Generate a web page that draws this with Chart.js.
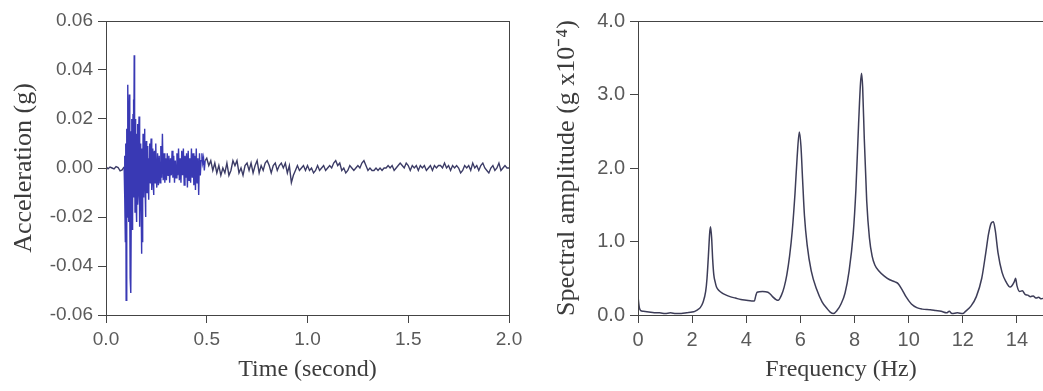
<!DOCTYPE html>
<html>
<head>
<meta charset="utf-8">
<script src="https://cdn.jsdelivr.net/npm/chart.js@4/dist/chart.umd.min.js"></script>
<style>
  html, body { margin: 0; padding: 0; background: #fff; overflow: hidden; width: 1043px; height: 391px; }
  canvas { position: absolute; top: 0; }
  #c1 { left: 0; }
  #c2 { left: 520px; }
</style>
</head>
<body>
<canvas id="c1" width="530" height="391"></canvas>
<canvas id="c2" width="530" height="391"></canvas>
<script>
// ---------- Data: acceleration time history ----------
const timePre = [0.00, 0.01, 0.02, 0.03, 0.04, 0.05, 0.06, 0.07, 0.08, 0.09];
const accelPre = [0.0005, -0.0003, 0.0004, 0.0000, -0.0004, 0.0006, 0.0002, -0.0012, -0.0008, 0.0004];

const timeBurstA = [
  0.092, 0.094, 0.096, 0.098, 0.100, 0.102, 0.104, 0.106, 0.108, 0.110,
  0.112, 0.114, 0.116, 0.118, 0.120, 0.122, 0.124, 0.126, 0.128, 0.130,
  0.132, 0.134, 0.136, 0.138, 0.140, 0.142, 0.144, 0.146, 0.148, 0.150,
  0.152, 0.154, 0.156, 0.158, 0.160, 0.162, 0.164, 0.166, 0.168, 0.170,
  0.172, 0.174, 0.176, 0.178, 0.180, 0.182, 0.184, 0.186, 0.188, 0.190,
  0.192, 0.194, 0.196, 0.198, 0.200, 0.202, 0.204, 0.206, 0.208, 0.210,
  0.212, 0.214, 0.216, 0.218, 0.220, 0.222, 0.224, 0.226, 0.228, 0.230,
  0.232, 0.234, 0.236, 0.238, 0.240, 0.242, 0.244, 0.246, 0.248, 0.250
];
const accelBurstA = [
  0.005, -0.012, -0.030, 0.010, -0.054, -0.015, 0.016, -0.020, 0.034, 0.012,
  -0.022, 0.008, 0.030, -0.018, -0.045, 0.015, -0.051, -0.010, 0.020, -0.025,
  -0.015, 0.022, 0.028, -0.012, 0.046, 0.010, -0.018, 0.020, 0.012, -0.016,
  -0.022, 0.014, 0.018, -0.015, -0.010, 0.012, 0.021, -0.008, -0.024, 0.006,
  0.010, -0.012, -0.035, 0.008, -0.030, -0.006, 0.014, -0.009, -0.012, 0.010,
  0.016, -0.008, -0.020, 0.006, 0.011, -0.007, -0.010, 0.005, 0.009, -0.006,
  -0.013, 0.004, 0.010, -0.005, -0.006, 0.008, 0.012, -0.004, -0.009, 0.005,
  0.008, -0.006, -0.011, 0.004, 0.007, -0.003, -0.006, 0.006, 0.010, -0.004
];

const timeBurstB = [
  0.252, 0.256, 0.260, 0.264, 0.268, 0.272, 0.276, 0.280, 0.284, 0.288,
  0.292, 0.296, 0.300, 0.304, 0.308, 0.312, 0.316, 0.320, 0.324, 0.328,
  0.332, 0.336, 0.340, 0.344, 0.348, 0.352, 0.356, 0.360, 0.364, 0.368,
  0.372, 0.376, 0.380, 0.384, 0.388, 0.392, 0.396, 0.400, 0.404, 0.408,
  0.412, 0.416, 0.420, 0.424, 0.428, 0.432, 0.436, 0.440, 0.444, 0.448,
  0.452, 0.456, 0.460, 0.464, 0.468, 0.472, 0.476, 0.480, 0.484, 0.488,
  0.492
];
const accelBurstB = [
  -0.008, 0.006, -0.007, 0.005, -0.006, 0.009, -0.004, 0.014, -0.005, 0.006,
  -0.006, 0.004, -0.005, 0.006, -0.003, 0.005, -0.006, 0.004, -0.003, 0.007,
  -0.004, 0.005, -0.006, 0.003, -0.004, 0.006, -0.003, 0.008, -0.005, 0.004,
  -0.006, 0.007, -0.003, 0.008, -0.007, 0.005, -0.004, 0.006, -0.008, 0.007,
  -0.005, 0.004, -0.006, 0.008, -0.004, 0.006, -0.007, 0.005, -0.009, 0.008,
  -0.006, 0.004, -0.011, 0.006, -0.003, 0.003, 0.006, 0.002, 0.004, -0.001,
  0.003
];

const timeTail = [
  0.50, 0.51, 0.52, 0.53, 0.54, 0.55, 0.56, 0.57, 0.58, 0.59,
  0.60, 0.61, 0.62, 0.63, 0.64, 0.65, 0.66, 0.67, 0.68, 0.69,
  0.70, 0.71, 0.72, 0.73, 0.74, 0.75, 0.76, 0.77, 0.78, 0.79,
  0.80, 0.81, 0.82, 0.83, 0.84, 0.85, 0.86, 0.87, 0.88, 0.89,
  0.90, 0.91, 0.92, 0.93, 0.94, 0.95, 0.96, 0.97, 0.98, 0.99,
  1.00, 1.01, 1.02, 1.03, 1.04, 1.05, 1.06, 1.07, 1.08, 1.09,
  1.10, 1.11, 1.12, 1.13, 1.14, 1.15, 1.16, 1.17, 1.18, 1.19,
  1.20, 1.21, 1.22, 1.23, 1.24, 1.25, 1.26, 1.27, 1.28, 1.29,
  1.30, 1.31, 1.32, 1.33, 1.34, 1.35, 1.36, 1.37, 1.38, 1.39,
  1.40, 1.41, 1.42, 1.43, 1.44, 1.45, 1.46, 1.47, 1.48, 1.49,
  1.50, 1.51, 1.52, 1.53, 1.54, 1.55, 1.56, 1.57, 1.58, 1.59,
  1.60, 1.61, 1.62, 1.63, 1.64, 1.65, 1.66, 1.67, 1.68, 1.69,
  1.70, 1.71, 1.72, 1.73, 1.74, 1.75, 1.76, 1.77, 1.78, 1.79,
  1.80, 1.81, 1.82, 1.83, 1.84, 1.85, 1.86, 1.87, 1.88, 1.89,
  1.90, 1.91, 1.92, 1.93, 1.94, 1.95, 1.96, 1.97, 1.98, 1.99,
  2.00
];
const accelTail = [
  0.004, 0.001, 0.003, -0.001, 0.002, -0.002, 0.001, -0.003, 0.000, -0.002,
  0.002, -0.003, -0.001, 0.003, 0.001, 0.003, -0.002, 0.000, -0.003, 0.001,
  0.002, -0.001, 0.002, -0.002, 0.001, 0.003, -0.002, 0.001, -0.001, 0.002,
  0.003, 0.001, -0.002, 0.001, 0.002, -0.001, 0.001, 0.002, 0.000, 0.002,
  -0.002, 0.001, -0.006, -0.003, -0.001, 0.001, -0.001, 0.000, 0.001, -0.001,
  0.001, -0.001, 0.000, -0.002, -0.001, 0.001, -0.001, 0.000, 0.001, -0.001,
  0.000, 0.001, 0.000, 0.002, 0.003, 0.001, 0.002, -0.001, 0.000, -0.002,
  -0.001, 0.001, 0.000, -0.001, 0.000, 0.001, 0.000, 0.002, 0.003, 0.001,
  -0.001, 0.000, -0.001, -0.001, 0.000, -0.001, 0.000, -0.001, 0.000, 0.000,
  0.001, 0.000, 0.001, -0.001, 0.000, 0.001, 0.002, 0.001, 0.000, 0.002,
  0.001, -0.001, 0.001, 0.000, 0.001, -0.001, 0.001, 0.000, 0.001, -0.001,
  0.000, 0.001, -0.001, 0.001, 0.000, 0.001, 0.001, 0.000, 0.002, 0.000,
  0.001, -0.001, 0.001, 0.000, 0.001, 0.000, -0.002, -0.001, 0.001, 0.000,
  0.001, -0.001, 0.002, 0.000, 0.001, -0.001, 0.001, 0.002, 0.000, -0.001,
  -0.002, 0.000, 0.001, -0.001, 0.000, 0.002, -0.001, 0.000, 0.001, 0.000,
  0.000
];

// ---------- Data: Fourier spectrum ----------
const freqHz = [
  0.00, 0.05, 0.10, 0.20, 0.40, 0.60, 0.80, 1.00, 1.20, 1.40,
  1.60, 1.80, 2.00, 2.10, 2.20, 2.30, 2.40, 2.50, 2.55, 2.60,
  2.65, 2.68, 2.72, 2.76, 2.80, 2.85, 2.90, 3.00, 3.10, 3.20,
  3.40, 3.60, 3.80, 4.00, 4.20, 4.30, 4.35, 4.40, 4.60, 4.80,
  4.90, 5.00, 5.10, 5.18, 5.30, 5.40, 5.50, 5.60, 5.70, 5.80,
  5.88, 5.96, 6.02, 6.08, 6.15, 6.25, 6.40, 6.60, 6.80, 7.00,
  7.10, 7.22, 7.35, 7.50, 7.65, 7.80, 7.95, 8.05, 8.15, 8.22,
  8.26, 8.30, 8.36, 8.45, 8.55, 8.65, 8.75, 8.90, 9.10, 9.30,
  9.50, 9.60, 9.75, 9.90, 10.10, 10.30, 10.50, 10.80, 11.00, 11.20,
  11.40, 11.50, 11.60, 11.80, 12.00, 12.10, 12.30, 12.50, 12.70, 12.85,
  12.95, 13.05, 13.13, 13.20, 13.30, 13.45, 13.60, 13.75, 13.90, 13.95,
  14.00, 14.10, 14.20, 14.30, 14.40, 14.50, 14.60, 14.70, 14.80, 14.90,
  15.00
];
const spectralAmp = [
  0.25, 0.10, 0.06, 0.05, 0.04, 0.03, 0.03, 0.02, 0.03, 0.02,
  0.02, 0.03, 0.04, 0.05, 0.07, 0.10, 0.17, 0.32, 0.50, 0.80,
  1.12, 1.20, 1.05, 0.75, 0.55, 0.45, 0.38, 0.33, 0.30, 0.28,
  0.25, 0.23, 0.21, 0.20, 0.19, 0.19, 0.26, 0.31, 0.32, 0.31,
  0.28, 0.24, 0.21, 0.20, 0.27, 0.38, 0.55, 0.80, 1.15, 1.65,
  2.15, 2.49, 2.30, 1.85, 1.35, 0.95, 0.60, 0.35, 0.18, 0.08,
  0.04, 0.02, 0.06, 0.15, 0.30, 0.60, 1.10, 1.70, 2.60, 3.15,
  3.29, 3.10, 2.40, 1.55, 1.05, 0.80, 0.68, 0.60, 0.53, 0.48,
  0.45, 0.43, 0.35, 0.25, 0.15, 0.10, 0.08, 0.07, 0.06, 0.05,
  0.03, 0.05, 0.02, 0.03, 0.02, 0.05, 0.12, 0.25, 0.50, 0.85,
  1.10, 1.25, 1.27, 1.15, 0.85, 0.58, 0.45, 0.38, 0.45, 0.50,
  0.40, 0.32, 0.33, 0.28, 0.27, 0.25, 0.26, 0.23, 0.24, 0.22,
  0.23
];

// ---------- Build chart data ----------
const accelTimes = timePre.concat(timeBurstA, timeBurstB, timeTail);
const accelValues = accelPre.concat(accelBurstA, accelBurstB, accelTail);
const accelPoints = accelTimes.map((t, i) => ({ x: t, y: accelValues[i] }));
const specPoints = freqHz.map((f, i) => ({ x: f, y: spectralAmp[i] }));

const SANS = "'Liberation Sans', Arial, sans-serif";
const SERIF = "'Liberation Serif', 'Times New Roman', serif";
const TICK_COLOR = '#5a5a5a';
const TITLE_COLOR = '#3c3c3c';
const AXIS_COLOR = '#444';

const frameBox = {
  id: 'frameBox',
  afterDatasetsDraw(chart) {
    const a = chart.chartArea;
    const ctx = chart.ctx;
    ctx.save();
    ctx.strokeStyle = AXIS_COLOR;
    ctx.lineWidth = 1;
    ctx.strokeRect(Math.round(a.left) + 0.5, Math.round(a.top) + 0.5,
                   Math.round(a.right - a.left), Math.round(a.bottom - a.top));
    ctx.restore();
  }
};

function axisX(min, max, step, decimals, title, tickSize) {
  return {
    type: 'linear', min, max,
    afterFit(s) { s.height = 76; },
    ticks: {
      stepSize: step, includeBounds: false, color: TICK_COLOR, font: { family: SANS, size: tickSize }, padding: 5,
      maxRotation: 0, autoSkip: false,
      callback: v => Number(v).toFixed(decimals)
    },
    grid: { drawOnChartArea: false, drawTicks: true, tickLength: 8, color: AXIS_COLOR },
    border: { display: true, color: AXIS_COLOR, width: 1 },
    title: { display: true, text: title, color: TITLE_COLOR, font: { family: SERIF, size: 24 }, padding: { top: 0, bottom: 7 } }
  };
}
function axisY(min, max, step, decimals, title, width, tickSize, titlePad) {
  return {
    type: 'linear', min, max,
    afterFit(s) { s.width = width; },
    ticks: {
      stepSize: step, color: TICK_COLOR, font: { family: SANS, size: tickSize }, padding: 5,
      callback: v => Number(v).toFixed(decimals)
    },
    grid: { drawOnChartArea: false, drawTicks: true, tickLength: 8, color: AXIS_COLOR },
    border: { display: true, color: AXIS_COLOR, width: 1 },
    title: { display: true, text: title, color: TITLE_COLOR, font: { family: SERIF, size: 26 }, padding: { top: titlePad, bottom: 0 } }
  };
}

const common = {
  responsive: false,
  animation: false,
  devicePixelRatio: 1,
  plugins: { legend: { display: false }, tooltip: { enabled: false } },
  elements: { point: { radius: 0 } }
};

new Chart(document.getElementById('c1'), {
  type: 'line',
  data: {
    datasets: [{
      data: accelPoints,
      borderWidth: 1.4,
      borderColor: '#3b3b66',
      tension: 0,
      segment: {
        borderColor: ctx => (ctx.p0.parsed.x >= 0.09 && ctx.p0.parsed.x < 0.49) ? '#3939b4' : '#3b3b66'
      }
    }]
  },
  options: Object.assign({}, common, {
    layout: { padding: { left: 0, top: 21, right: 21, bottom: 0 } },
    scales: {
      x: axisX(0, 2, 0.5, 1, 'Time (second)', 19),
      y: axisY(-0.06, 0.06, 0.02, 2, 'Acceleration (g)', 106, 19, 9)
    }
  }),
  plugins: [frameBox]
});

new Chart(document.getElementById('c2'), {
  type: 'line',
  data: {
    datasets: [{
      data: specPoints,
      borderWidth: 1.5,
      borderColor: '#3d3d58',
      tension: 0.25,
      cubicInterpolationMode: 'monotone'
    }]
  },
  options: Object.assign({}, common, {
    layout: { padding: { left: 0, top: 21, right: 6, bottom: 0 } },
    scales: {
      x: axisX(0, 15, 2, 0, 'Frequency (Hz)', 20),
      y: axisY(0, 4, 1, 1, 'Spectral amplitude (g x10\u207B\u2074)', 118, 20, 32)
    }
  }),
  plugins: [frameBox]
});
</script>
</body>
</html>
